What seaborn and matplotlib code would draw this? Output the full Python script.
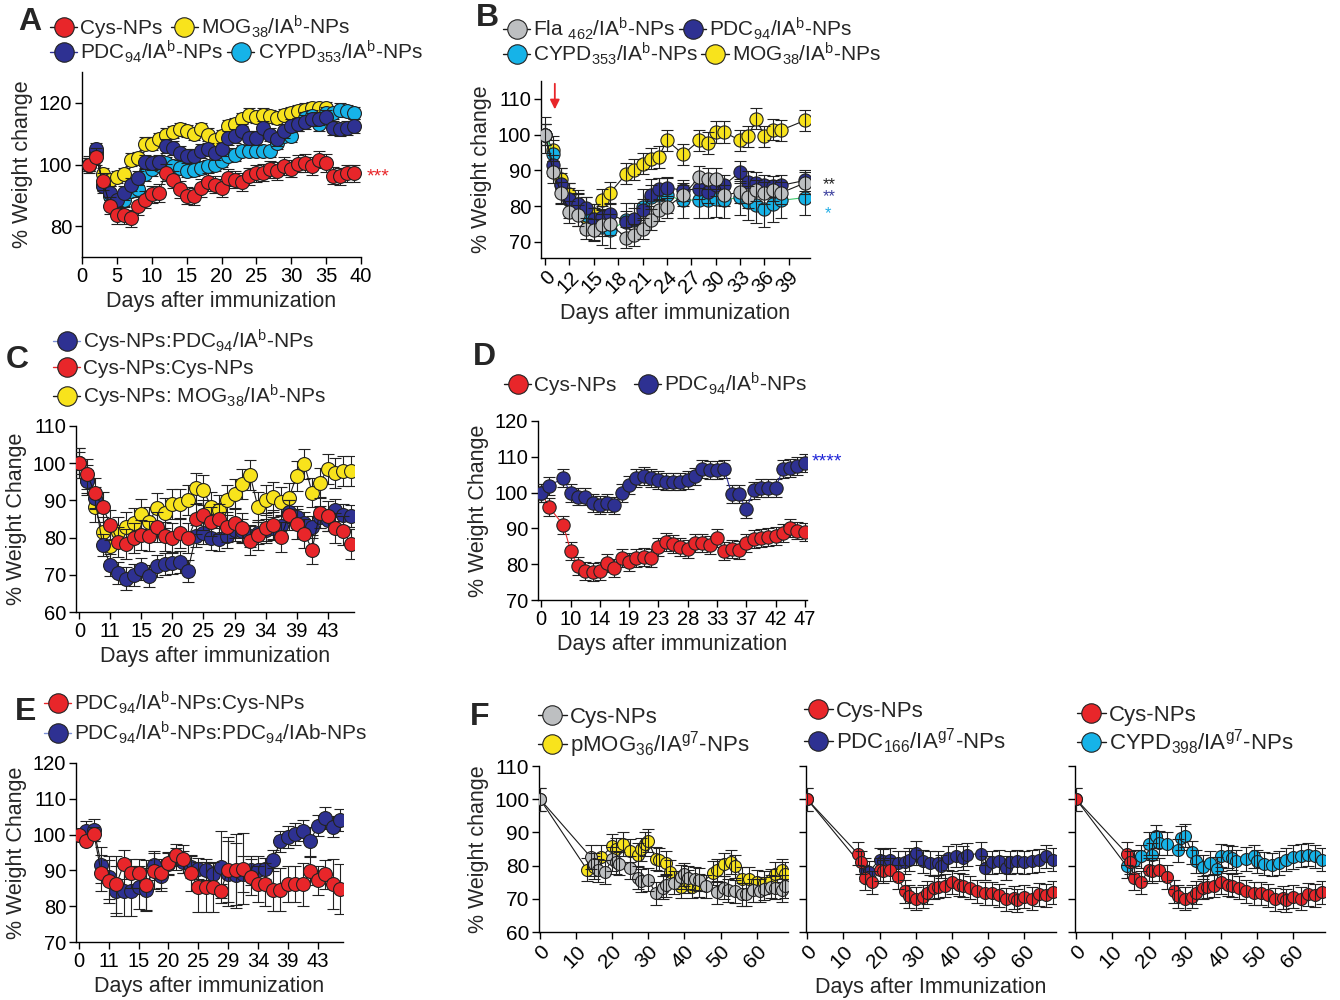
import matplotlib
matplotlib.use('Agg')
import matplotlib.pyplot as plt
from matplotlib.lines import Line2D
import seaborn as sns

# ---------------- datos ----------------
# A (dias 1..39)
a_days = list(range(1, 40))
a_mog_days = list(range(1, 36))
a_cys = [100, 102.5, 94.6, 86.7, 83.5, 83.5, 82.5, 86.5, 88.6, 90.3,
         90.8, 97.3, 95.1, 91.9, 89.9, 89.7, 92.4, 94.3, 93.5, 92.4,
         95.7, 95.1, 94.3, 96.2, 97.1, 97.3, 98.4, 97.9, 99.5, 98.6,
         100.3, 100.5, 99.5, 101.6, 100.5, 96.4, 96.2, 97.1, 97.1]
a_mog = [100, 104, 96.8, 95, 96, 97, 101.6, 102, 106.8, 106.8,
         108.3, 109.7, 110.5, 111.4, 110.8, 110, 111.5, 109.7, 108.1, 109.2,
         112.4, 113.2, 114.6, 116.2, 115.4, 116.2, 115.7, 115.1, 115.9, 116.8,
         117.3, 117.8, 118.4, 118.4, 118.4]
a_pdc = [100, 104.9, 93, 90.8, 88.6, 90.8, 93.5, 95.7, 100.8, 100.5,
         100.8, 106, 105.4, 103.8, 102.7, 102.9, 104.3, 104.9, 103.6, 104.9,
         108.6, 109.2, 110.8, 108.6, 108.6, 111.9, 109.7, 108.3, 110.8, 112.6,
         113, 113.7, 114.6, 114.9, 115.5, 111.9, 111.4, 111.9, 112.4]
a_cypd = [100, 103, 93.5, 89.7, 88, 88.6, 91.4, 92, 96.8, 98.4,
          100, 100.5, 99.5, 98.9, 97.8, 98.2, 98.9, 99.5, 100, 101.1,
          102.7, 103.2, 104.3, 104.3, 104.3, 104.3, 104.3, 107, 109.2, 109.2,
          113, 115, 115.7, 113, 116.8, 116.8, 117.8, 117.3, 116.8]
a_err = {'cys': 2.8, 'mog': 2.0, 'pdc': 2.2, 'cypd': 2.0}

# B (eje cortado: el dia 0 se dibuja en la posicion 9)
b_days = [0, 10, 11, 12, 13, 14, 15, 16, 17, 19, 20, 21, 22, 23, 24, 26, 28,
          29, 30, 31, 33, 34, 35, 36, 37, 38, 41]
b_ticks = [9, 12, 15, 18, 21, 24, 27, 30, 33, 36, 39]
b_ticklabels = ['0', '12', '15', '18', '21', '24', '27', '30', '33', '36', '39']
b_fla = [100, 89.6, 83.7, 78.4, 77.4, 73.7, 73.3, 74.7, 74.9, 71.2, 71.9,
         73.7, 76.2, 78.8, 79.8, 83.0, 88.2, 87.7, 87.7, 83.0, 84.0, 82.6,
         84.4, 83.7, 84.4, 83.7, 86.5]
b_pdc = [100, 91.4, 86.3, 82.1, 80.5, 79.6, 76.5, 77.0, 77.9, 75.6, 76.5,
         79.0, 83.0, 84.9, 85.2, 84.4, 84.9, 84.0, 85.8, 85.8, 89.6, 86.8,
         86.5, 85.8, 85.5, 85.8, 87.2]
b_cypd = [100, 94.7, 85.8, 81.6, 79.5, 77.5, 75.6, 74.2, 73.3, 76.0, 76.0,
          79.8, 82.6, 83.0, 83.0, 81.6, 81.8, 81.6, 82.1, 81.6, 82.6, 81.2,
          80.2, 79.3, 80.7, 81.6, 82.4]
b_mog = [100, 95.6, 87.7, 83.5, 80.7, 77.0, 77.7, 81.8, 83.7, 89.1, 90.2,
         91.9, 93.3, 93.8, 98.4, 94.5, 98.4, 97.7, 100.7, 100.7, 98.4, 99.5,
         104.5, 99.5, 101.4, 101.2, 104.0]
b_err = {'fla': 3.0, 'pdc': 3.0, 'cypd': 5.0, 'mog': 3.0}

# C y E (36 medidas, etiqueta cada 4)
ce_ticklabels = ['0', '11', '15', '20', '25', '29', '34', '39', '43']
c_pdc = [100, 95.1, 90.6, 78.0, 72.6, 70.4, 69.0, 69.9, 71.5, 69.7,
         72.4, 72.9, 73.1, 73.5, 71.1, 80.4, 81.3, 79.8, 79.5, 80.3,
         82.0, 81.9, 80.4, 81.3, 82.0, 82.5, 83.0, 87.0, 85.6, 83.8,
         82.9, 85.6, 84.7, 87.4, 86.1, 85.8]
c_cys = [100, 97.1, 91.9, 88.3, 83.4, 78.9, 78.3, 79.8, 80.7, 80.4,
         82.8, 80.3, 79.8, 81.3, 79.8, 84.9, 86.1, 84.3, 84.9, 82.9,
         84.0, 82.5, 79.2, 80.7, 82.5, 83.4, 80.1, 86.1, 83.7, 81.1,
         76.8, 86.7, 85.8, 82.5, 81.9, 78.3]
c_mog = [100, 95.5, 88.3, 81.6, 77.7, 81.6, 82.9, 84.0, 86.4, 84.3,
         87.9, 86.7, 89.0, 89.0, 90.1, 93.3, 92.8, 88.2, 87.4, 90.1,
         91.7, 94.4, 96.9, 88.3, 90.1, 91.0, 89.7, 90.6, 96.6, 99.8,
         92.1, 94.8, 98.4, 97.3, 98.0, 98.0]
c_err = {'pdc': 3.0, 'cys': 4.0, 'mog': 4.0}

e_cys = [100, 98.3, 100.2, 89.2, 86.9, 86.1, 91.7, 89.2, 89.2, 85.8,
         89.8, 89.2, 92.0, 94.4, 93.2, 89.2, 85.3, 85.3, 85.3, 84.2,
         90.2, 90.2, 90.5, 88.1, 86.1, 86.1, 84.6, 84.6, 86.1, 86.1,
         86.1, 89.8, 87.2, 88.9, 86.1, 84.9]
e_cys_err = [1, 1, 2, 5, 6, 8, 4, 4, 4, 7, 5, 4, 3, 3, 4, 5, 7, 7, 7, 2,
             9, 10, 10, 5, 5, 6, 6, 6, 5, 5, 6, 4, 4, 4, 7, 7]
e_pdc = [100, 100.9, 101.3, 91.6, 88.1, 84.2, 84.2, 84.2, 85.3, 84.6,
         91.4, 88.3, 91.8, 93.2, 92.3, 90.9, 90.5, 90.2, 89.1, 90.9,
         89.1, 88.6, 89.1, 90.0, 90.0, 90.5, 92.8, 98.1, 99.3, 100.2,
         101.1, 98.1, 102.5, 104.6, 102.2, 104.1]
e_pdc_err = [1, 3, 3, 5, 6, 7, 7, 7, 6, 6, 4, 4, 3, 3, 3, 3, 3, 3, 3, 10,
             9, 9, 5, 4, 4, 3, 3, 3, 3, 3, 3, 4, 3, 3, 3, 3]

# D (falta la medida 2)
d_idx = [0, 1] + list(range(3, 37))
d_ticklabels = ['0', '10', '14', '19', '23', '28', '33', '37', '42', '47']
d_cys = [100, 96.1, 91.0, 83.8, 79.5, 78.2, 77.9, 78.2, 80.3, 78.9,
         81.7, 80.7, 81.7, 82.1, 81.7, 84.9, 86.3, 85.6, 84.7, 84.2,
         86.0, 85.8, 85.4, 87.2, 83.8, 84.2, 84.0, 85.8, 87.0, 87.2,
         87.5, 87.9, 88.6, 90.0, 89.4, 89.1]
d_pdc = [100, 101.9, 104.0, 99.8, 98.9, 98.9, 97.2, 96.6, 97.2, 96.4,
         100.0, 102.1, 104.0, 104.7, 104.0, 103.5, 103.1, 103.1, 103.1, 103.5,
         104.5, 106.5, 106.3, 106.3, 106.5, 99.6, 99.6, 95.3, 100.6, 101.2,
         101.2, 101.2, 106.5, 106.8, 107.4, 108.2]
d_err = 2.5

# F (IAg7)
f1_cys_days = [0, 14, 15, 16, 18, 20, 21, 22, 25, 27, 28, 30, 32, 34, 35, 37,
               39, 40, 41, 43, 44, 46, 49, 51, 52, 54, 56, 57, 59, 61, 62, 64,
               65, 67, 68]
f1_cys = [100, 82.6, 80.4, 78.6, 78.1, 82.0, 81.0, 80.6, 79.4, 76.4, 75.4,
          75.8, 71.6, 73.4, 74.1, 74.8, 76.6, 77.4, 76.4, 76.1, 75.8, 73.8,
          71.9, 73.4, 72.6, 72.3, 71.4, 71.4, 72.6, 72.4, 73.1, 73.6, 73.4,
          72.6, 73.8]
f1_mog_days = [0, 13, 15, 17, 20, 21, 23, 25, 27, 28, 29, 30, 32, 33, 35, 36,
               39, 41, 42, 44, 48, 49, 51, 53, 54, 56, 58, 60, 62, 64, 65, 67,
               68]
f1_mog = [100, 78.8, 79.5, 82.6, 85.9, 84.9, 86.5, 84.5, 83.2, 84.9, 86.5,
          87.5, 82.1, 81.8, 80.8, 78.1, 73.6, 75.1, 73.6, 74.1, 77.8, 78.6,
          80.4, 81.1, 79.8, 76.1, 76.1, 75.1, 74.8, 75.6, 77.6, 78.6, 77.6]
f_cys_days = [0, 14, 15, 16, 18, 20, 21, 23, 25, 27, 28, 30, 32, 33, 35, 36,
              38, 40, 42, 43, 45, 47, 49, 51, 53, 55, 57, 58, 60, 62, 64, 66,
              68]
f_cys = [100, 83.6, 81.0, 76.3, 75.0, 78.8, 78.3, 78.8, 76.6, 72.3, 70.8,
         70.0, 70.6, 71.8, 73.3, 73.6, 74.0, 75.0, 74.3, 74.0, 73.3, 72.3,
         71.6, 71.6, 71.0, 69.8, 70.3, 69.6, 70.6, 70.0, 71.3, 71.0, 72.0]
f2_pdc_days = [0, 16, 17, 20, 21, 23, 25, 27, 28, 30, 32, 34, 36, 37, 39, 41,
               43, 44, 48, 49, 51, 53, 55, 56, 58, 60, 62, 64, 66, 68]
f2_pdc = [100, 78.8, 78.0, 81.8, 81.5, 81.8, 80.8, 81.0, 81.8, 83.8, 81.3,
          80.8, 80.8, 79.8, 82.3, 83.0, 82.3, 83.3, 83.6, 79.3, 81.0, 81.3,
          79.3, 81.0, 81.3, 81.0, 81.3, 81.6, 82.8, 81.8]
f3_cypd_days = [0, 14, 16, 18, 20, 21, 22, 23, 25, 28, 29, 30, 32, 33, 35, 37,
                39, 40, 42, 43, 44, 47, 49, 50, 52, 54, 56, 58, 60, 62, 64, 66,
                68]
f3_cypd = [100, 79.8, 81.3, 82.8, 86.6, 83.3, 88.8, 86.8, 86.6, 84.6, 88.3,
           89.0, 84.0, 81.3, 79.6, 80.8, 79.0, 83.0, 82.8, 82.3, 81.3, 82.0,
           82.8, 81.3, 80.6, 80.3, 80.8, 81.8, 82.6, 83.0, 83.3, 82.8, 81.8]
f_err = 3.5

# colores
rojo = '#e8262a'
amarillo = '#f8e31c'
azul = '#2e3192'
celeste = '#16b3e8'
gris = '#bdbfc1'

# ---------------- estilo ----------------
sns.set_theme(style='ticks')
plt.rcParams['font.family'] = ['Liberation Sans', 'DejaVu Sans']
plt.rcParams['mathtext.fontset'] = 'custom'
plt.rcParams['mathtext.rm'] = 'Liberation Sans'
plt.rcParams['mathtext.default'] = 'regular'
plt.rcParams['axes.linewidth'] = 1.0

fig = plt.figure(figsize=(13.4, 10), dpi=100)


def eje(l, t, r, b):
    # ejes en pixeles de la figura
    ax = fig.add_axes([l / 1340, 1 - b / 1000, (r - l) / 1340, (b - t) / 1000])
    ax.tick_params(direction='out', length=5, width=1, labelsize=14.5,
                   colors='black', pad=2)
    for s in ['left', 'bottom']:
        ax.spines[s].set_color('black')
    sns.despine(ax=ax)
    return ax


def serie(ax, x, y, err, color, line='k', ms=10, z=2, bars_top=False):
    zb = z + 0.2 if bars_top else z - 0.2
    ax.errorbar(x, y, yerr=err, fmt='none', ecolor='#222222', elinewidth=0.8,
                capsize=4.5, capthick=0.8, zorder=zb)
    sns.lineplot(x=x, y=y, ax=ax, color=line, lw=0.8, marker='o', markersize=ms,
                 markerfacecolor=color, markeredgecolor='#222222',
                 markeredgewidth=0.8, errorbar=None, legend=False, zorder=z)


def leyenda(entries, x, y, fs=15, colsp=0.3):
    handles = [Line2D([], [], color=lc, lw=1, marker='o', ms=14, mfc=fc,
                      mec='#222222', mew=0.8) for _, fc, lc in entries]
    fig.legend(handles, [e[0] for e in entries], loc='center left',
               bbox_to_anchor=(x / 1340, 1 - y / 1000), ncol=len(entries),
               frameon=False, fontsize=fs, handlelength=1.3, handletextpad=0.15,
               columnspacing=colsp, borderpad=0, borderaxespad=0)


def letra(t, x, y):
    fig.text(x / 1340, 1 - y / 1000, t, fontsize=23, fontweight='bold',
             ha='center', va='center')


lab_fs = 15.5
mog_lab = 'MOG$_{38}$/IA$^{b}$-NPs'
pdc_lab = 'PDC$_{94}$/IA$^{b}$-NPs'
cypd_lab = 'CYPD$_{353}$/IA$^{b}$-NPs'

# ---------------- A ----------------
ax = eje(82, 72, 361, 257)
serie(ax, a_mog_days, a_mog, a_err['mog'], amarillo, z=2)
serie(ax, a_days, a_cypd, a_err['cypd'], celeste, z=3)
serie(ax, a_days, a_pdc, a_err['pdc'], azul, z=4)
serie(ax, a_days, a_cys, a_err['cys'], rojo, z=5)
ax.set_xlim(0, 40)
ax.set_ylim(70, 130)
ax.set_xticks(range(0, 41, 5))
ax.set_yticks([80, 100, 120])
ax.set_xlabel('Days after immunization', fontsize=lab_fs)
ax.set_ylabel('% Weight change', fontsize=lab_fs)
ax.text(40.8, 96.0, '***', color=rojo, fontsize=14, va='center', clip_on=False)
letra('A', 30, 22)
leyenda([('Cys-NPs', rojo, 'k'), (mog_lab, amarillo, 'k')], 50, 27, colsp=0.4)
leyenda([(pdc_lab, azul, azul), (cypd_lab, celeste, 'k')], 50, 52, colsp=0.2)

# ---------------- B ----------------
ax = eje(541, 81, 810, 258)
b_pos = [9 if d == 0 else d for d in b_days]
serie(ax, b_pos, b_mog, b_err['mog'], amarillo, ms=9.5, z=2, bars_top=True)
serie(ax, b_pos, b_cypd, b_err['cypd'], celeste, line='#3cc76a', ms=9.5, z=3, bars_top=True)
serie(ax, b_pos, b_pdc, b_err['pdc'], azul, ms=9.5, z=4, bars_top=True)
serie(ax, b_pos, b_fla, b_err['fla'], gris, ms=9.5, z=5, bars_top=True)
ax.set_xlim(8.5, 41.6)
ax.set_ylim(65.5, 115)
ax.set_xticks(b_ticks)
ax.set_xticklabels(b_ticklabels, rotation=45, ha='right', rotation_mode='anchor')
ax.set_yticks(range(70, 111, 10))
ax.set_xlabel('Days after immunization', fontsize=lab_fs)
ax.set_ylabel('% Weight change', fontsize=lab_fs)
ax.annotate('', xy=(10.2, 106.3), xytext=(10.2, 115),
            arrowprops=dict(arrowstyle='-|>', color=rojo, lw=1.3, mutation_scale=14),
            annotation_clip=False)
ax.text(43.2, 86.0, '**', color='#222222', fontsize=12, va='center', clip_on=False)
ax.text(43.2, 82.6, '**', color='#3b3f9e', fontsize=12, va='center', clip_on=False)
ax.text(43.4, 77.9, '*', color='#22aee6', fontsize=12, va='center', clip_on=False)
letra('B', 487, 18)
leyenda([('Fla $_{462}$/IA$^{b}$-NPs', gris, 'k'), (pdc_lab, azul, 'k')], 503, 29, colsp=0.2)
leyenda([(cypd_lab, celeste, 'k'), (mog_lab, amarillo, 'k')], 503, 54, colsp=0.15)

# ---------------- C ----------------
ax = eje(76, 426, 354, 612)
x36 = list(range(36))
serie(ax, x36, c_mog, c_err['mog'], amarillo, z=2)
serie(ax, x36, c_pdc, c_err['pdc'], azul, z=3)
serie(ax, x36, c_cys, c_err['cys'], rojo, z=4)
ax.set_xlim(-0.43, 35.4)
ax.set_ylim(60, 110)
ax.set_xticks(range(0, 33, 4))
ax.set_xticklabels(ce_ticklabels)
ax.set_yticks(range(60, 111, 10))
ax.set_xlabel('Days after immunization', fontsize=lab_fs)
ax.set_ylabel('% Weight Change', fontsize=lab_fs)
letra('C', 17, 360)
leyenda([('Cys-NPs:PDC$_{94}$/IA$^{b}$-NPs', azul, '#7b8fd6')], 53, 341)
leyenda([('Cys-NPs:Cys-NPs', rojo, rojo)], 53, 369)
leyenda([('Cys-NPs: MOG$_{38}$/IA$^{b}$-NPs', amarillo, 'k')], 53, 396)

# ---------------- D ----------------
ax = eje(538, 421, 807, 600)
serie(ax, d_idx, d_cys, d_err, rojo, line=rojo, ms=9.6, z=2)
serie(ax, d_idx, d_pdc, d_err, azul, line=azul, ms=9.6, z=3)
ax.set_xlim(-0.45, 36.3)
ax.set_ylim(70, 120)
ax.set_xticks(range(0, 37, 4))
ax.set_xticklabels(d_ticklabels)
ax.set_yticks(range(70, 121, 10))
ax.set_xlabel('Days after immunization', fontsize=lab_fs)
ax.set_ylabel('% Weight Change', fontsize=lab_fs)
ax.text(37.0, 108.6, '****', color='#1f24d8', fontsize=14, va='center', clip_on=False)
letra('D', 484, 357)
leyenda([('Cys-NPs', rojo, 'k'), (pdc_lab, azul, 'k')], 504, 384, colsp=0.85)

# ---------------- E ----------------
ax = eje(76, 763, 343, 942)
serie(ax, x36, e_pdc, e_pdc_err, azul, z=2)
serie(ax, x36, e_cys, e_cys_err, rojo, z=3)
ax.set_xlim(-0.4, 35.4)
ax.set_ylim(70, 120)
ax.set_xticks(range(0, 33, 4))
ax.set_xticklabels(ce_ticklabels)
ax.set_yticks(range(70, 121, 10))
ax.set_xlabel('Days after immunization', fontsize=lab_fs)
ax.set_ylabel('% Weight Change', fontsize=lab_fs)
letra('E', 26, 712)
leyenda([('PDC$_{94}$/IA$^{b}$-NPs:Cys-NPs', rojo, rojo)], 44, 703)
leyenda([('PDC$_{94}$/IA$^{b}$-NPs:PDC$_{94}$/IAb-NPs', azul, '#7b8fd6')], 44, 733)

# ---------------- F ----------------
f_axes = [eje(539, 766, 788, 932), eje(806, 766, 1056, 932), eje(1075, 766, 1325, 932)]
serie(f_axes[0], f1_mog_days, f1_mog, f_err, amarillo, ms=8.6, z=2, bars_top=True)
serie(f_axes[0], f1_cys_days, f1_cys, f_err, gris, ms=8.6, z=3, bars_top=True)
serie(f_axes[1], f2_pdc_days, f2_pdc, f_err, azul, ms=8.6, z=2, bars_top=True)
serie(f_axes[1], f_cys_days, f_cys, f_err, rojo, ms=8.6, z=3, bars_top=True)
serie(f_axes[2], f3_cypd_days, f3_cypd, f_err, celeste, ms=8.6, z=2, bars_top=True)
serie(f_axes[2], f_cys_days, f_cys, f_err, rojo, ms=8.6, z=3, bars_top=True)
for i, ax in enumerate(f_axes):
    ax.set_xlim(-0.3, 68.7)
    ax.set_ylim(60, 110)
    ax.set_xticks(range(0, 61, 10))
    ax.set_xticklabels([str(t) for t in range(0, 61, 10)], rotation=45,
                       ha='right', rotation_mode='anchor')
    ax.set_yticks(range(60, 111, 10))
    ax.tick_params(labelsize=15)
    if i > 0:
        ax.tick_params(labelleft=False)
f_axes[0].set_ylabel('% Weight change', fontsize=lab_fs)
f_axes[1].set_xlabel('Days after Immunization', fontsize=lab_fs)
letra('F', 480, 717)
leyenda([('Cys-NPs', gris, 'k')], 538, 717, fs=16)
leyenda([('pMOG$_{36}$/IA$^{g7}$-NPs', amarillo, 'k')], 538, 745, fs=16)
leyenda([('Cys-NPs', rojo, 'k')], 804, 711, fs=16)
leyenda([('PDC$_{166}$/IA$^{g7}$-NPs', azul, 'k')], 804, 741, fs=16)
leyenda([('Cys-NPs', rojo, 'k')], 1077, 715, fs=16)
leyenda([('CYPD$_{398}$/IA$^{g7}$-NPs', celeste, 'k')], 1077, 742, fs=16)

fig.savefig('out.png', dpi=100, facecolor='white')
